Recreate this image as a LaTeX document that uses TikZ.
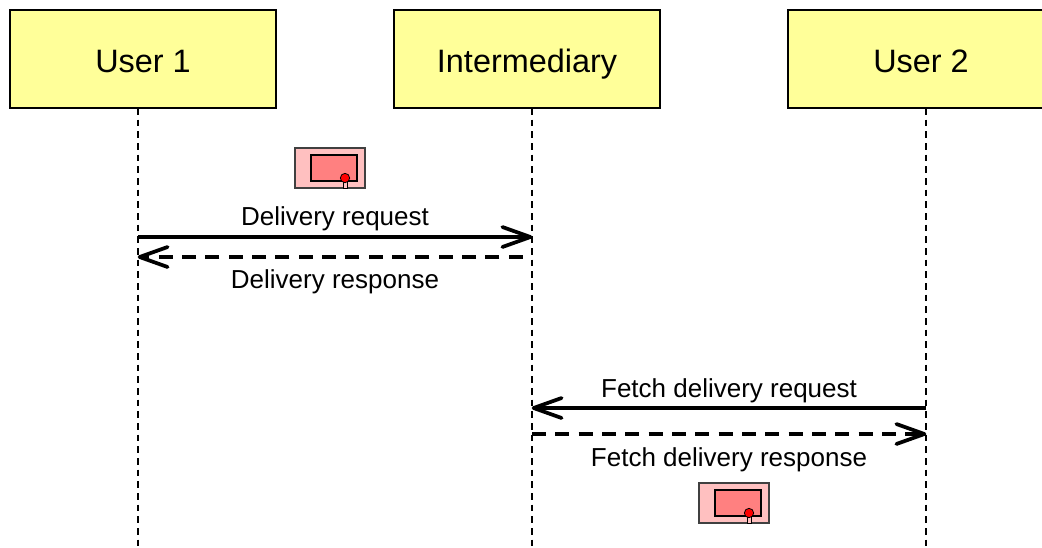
\documentclass[tikz,border=0pt]{standalone}
\usepackage{fontspec}
\setmainfont{Liberation Sans}
\usetikzlibrary{arrows.meta}
\definecolor{boxy}{HTML}{FFFF99}
\definecolor{pinkout}{HTML}{FFC0C0}
\definecolor{pinkin}{HTML}{FF8080}
\pgfdeclarearrow{
  name=VBarb,
  setup code={\pgfarrowssettipend{1.2pt}\pgfarrowssetlineend{-1pt}\pgfarrowssetvisualbackend{-21pt}\pgfarrowssetbackend{-21pt}},
  drawing code={\pgfsetdash{}{0pt}\pgfsetroundcap\pgfsetroundjoin\pgfsetlinewidth{2.8pt}\pgfpathmoveto{\pgfpoint{-21pt}{7.5pt}}\pgfpathlineto{\pgfpoint{0pt}{0pt}}\pgfpathlineto{\pgfpoint{-21pt}{-7.5pt}}\pgfusepathqstroke},
  defaults={}
}
\tikzset{
  actor/.style={draw=black,line width=0.9pt,fill=boxy,minimum width=199.5pt,minimum height=73.5pt,inner sep=0pt,font=\fontsize{24.3}{28}\selectfont,text=black,text height=19.5pt,text depth=0pt},
  lifeline/.style={draw=black,line width=1.4pt,dash pattern=on 5pt off 3.75pt},
  msg/.style={-VBarb,draw=black,line width=2.8pt},
  msgdash/.style={msg,dash pattern=on 10.5pt off 7pt},
  lbl/.style={inner sep=0pt,anchor=base,font=\fontsize{19.5}{23}\selectfont,text=black},
  iconouter/.style={draw=black!75,line width=0.9pt,fill=pinkout,minimum width=52.5pt,minimum height=30pt,inner sep=0pt},
  iconinner/.style={draw=black,line width=0.9pt,fill=pinkin,minimum width=34.5pt,minimum height=19.5pt,inner sep=0pt},
  icondot/.style={circle,draw=black,line width=0.6pt,fill=red,minimum size=7pt,inner sep=0pt},
  iconstem/.style={draw=black,line width=0.6pt,fill=pinkout}
}
\begin{document}
\begin{tikzpicture}[x=0.75pt,y=-0.75pt]
\useasboundingbox (0,0) rectangle (1042,547);
\clip (0,0) rectangle (1042,547);
\node[actor] (u1) at (143,59) {User 1};
\node[actor] (im) at (527,59) {Intermediary};
\node[actor] (u2) at (921,59) {User 2};
\coordinate (u1top) at (138,108);
\coordinate (imtop) at (532,108);
\coordinate (u2top) at (926,108);
\coordinate (u1end) at (138,547);
\coordinate (imend) at (532,547);
\coordinate (u2end) at (926,547);
\draw[lifeline] (u1top) -- (u1end);
\draw[lifeline] (imtop) -- (imend);
\draw[lifeline] (u2top) -- (u2end);
\coordinate (a1) at (138,237); \coordinate (b1) at (532,237);
\coordinate (a2) at (138,257); \coordinate (b2) at (532,257);
\coordinate (b3) at (532,408); \coordinate (c3) at (926,408);
\coordinate (b4) at (532,434); \coordinate (c4) at (926,434);
\draw[msg] (a1) -- (b1);
\draw[msgdash,dash phase=10.5pt] (b2) -- (a2);
\draw[msg] (c3) -- (b3);
\draw[msgdash] (b4) -- (c4);
\node[lbl] (t1) at (335,225.5) {Delivery request};
\node[lbl] (t2) at (335,288.5) {Delivery response};
\node[lbl] (t3) at (729,397) {Fetch delivery request};
\node[lbl] (t4) at (729,466) {Fetch delivery response};
% message icons
\node[iconouter] (m1) at (330,168) {};
\node[iconinner] (m1i) at (334,168) {};
\draw[iconstem] (343.5,181) rectangle (347,188);
\node[icondot] (m1d) at (345,178) {};
\node[iconouter] (m2) at (734,503) {};
\node[iconinner] (m2i) at (738,503) {};
\draw[iconstem] (747.5,516) rectangle (751,523);
\node[icondot] (m2d) at (749,513) {};
\end{tikzpicture}
\end{document}
